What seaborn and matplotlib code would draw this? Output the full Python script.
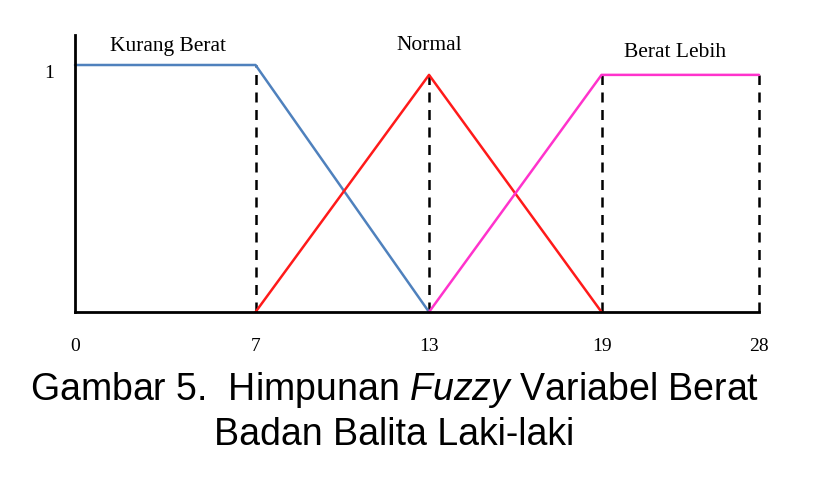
import numpy as np
import pandas as pd
import matplotlib
matplotlib.use("Agg")
import matplotlib.pyplot as plt
import matplotlib.transforms as mtransforms
import seaborn as sns

# ---- data ----
ticks = [0, 7, 13, 19, 28]
tick_labels = ["0", "7", "13", "19", "28"]
kurang_x = [0, 7, 13]
kurang_y = [1.0, 1.0, 0.0]
normal_x = [7, 13, 19]
normal_y = [0.0, 0.96, 0.0]
lebih_x = [13, 19, 28]
lebih_y = [0.0, 0.96, 0.96]
set_names = ["Kurang Berat", "Normal", "Berat Lebih"]
colors = ["#4f81bd", "#ff1a1a", "#ff33cc"]
caption1 = r"Gambar 5.  Himpunan $\mathit{Fuzzy}$ Variabel Berat"
caption2 = "Badan Balita Laki-laki"

df = pd.concat([
    pd.DataFrame({"x": kurang_x, "y": kurang_y, "set": set_names[0]}),
    pd.DataFrame({"x": normal_x, "y": normal_y, "set": set_names[1]}),
    pd.DataFrame({"x": lebih_x, "y": lebih_y, "set": set_names[2]}),
], ignore_index=True)

sns.set_style("white")
plt.rcParams["font.family"] = ["Liberation Serif", "DejaVu Serif"]
plt.rcParams["text.color"] = "black"
plt.rcParams["xtick.color"] = "black"
plt.rcParams["ytick.color"] = "black"
plt.rcParams["mathtext.fontset"] = "custom"
plt.rcParams["mathtext.rm"] = "Liberation Sans"
plt.rcParams["mathtext.it"] = "Liberation Sans:italic"

W, H = 836, 486
fig = plt.figure(figsize=(W / 100, H / 100), dpi=100)
ax = fig.add_axes([75 / W, (H - 312) / H, (759 - 75) / W, (312 - 35) / H])

# piecewise-linear (non-uniform) x scale as in the original drawing
scale_src = np.array(ticks, dtype=float)
scale_dst = np.array([0, 180, 353, 525, 682], dtype=float)

def fwd(v):
    return np.interp(v, scale_src, scale_dst)

def inv(v):
    return np.interp(v, scale_dst, scale_src)

ax.set_xscale("function", functions=(fwd, inv))

sns.lineplot(data=df, x="x", y="y", hue="set", palette=dict(zip(set_names, colors)),
             sort=False, estimator=None, legend=False, linewidth=1.8, ax=ax)
for ln in ax.get_lines():
    ln.set_clip_on(False)

# dashed guides
guide_x = [7, 13, 19, 28]
guide_top = [1.0, 0.96, 0.96, 0.96]
for gx, gt in zip(guide_x, guide_top):
    ax.plot([gx, gx], [0, gt], color="black", linestyle=(0, (4, 3)), linewidth=1.8,
            zorder=1, clip_on=False)

ax.set_xlim(0, 28)
ax.set_ylim(0, (312 - 35) / (312 - 65))
ax.set_xticks(ticks)
ax.set_xticklabels(tick_labels)
ax.set_yticks([1])
ax.set_yticklabels(["1"])
ax.tick_params(axis="x", length=0, pad=19, labelsize=14, labelcolor="black")
ax.tick_params(axis="y", length=0, pad=15, labelsize=14, labelcolor="black")
offset = mtransforms.ScaledTranslation(0, -6 / 100, fig.dpi_scale_trans)
for lbl in ax.get_yticklabels():
    lbl.set_transform(lbl.get_transform() + offset)
ax.set_xlabel("")
ax.set_ylabel("")
for s in ["top", "right"]:
    ax.spines[s].set_visible(False)
for s in ["left", "bottom"]:
    ax.spines[s].set_color("black")
    ax.spines[s].set_linewidth(2)

# set labels
label_pos = [(3.6, 1.075), (13, 1.08), (23.2, 1.05)]
for name, (lx, ly) in zip(set_names, label_pos):
    ax.text(lx, ly, name, ha="center", va="center", fontsize=15.5, color="black")

fig.text(395 / W, 1 - 390 / H, caption1, ha="center", va="center",
         fontsize=27, family="Liberation Sans", color="black")
fig.text(394 / W, 1 - 435 / H, caption2, ha="center", va="center",
         fontsize=27, family="Liberation Sans", color="black")

fig.savefig("out.png", dpi=100)
